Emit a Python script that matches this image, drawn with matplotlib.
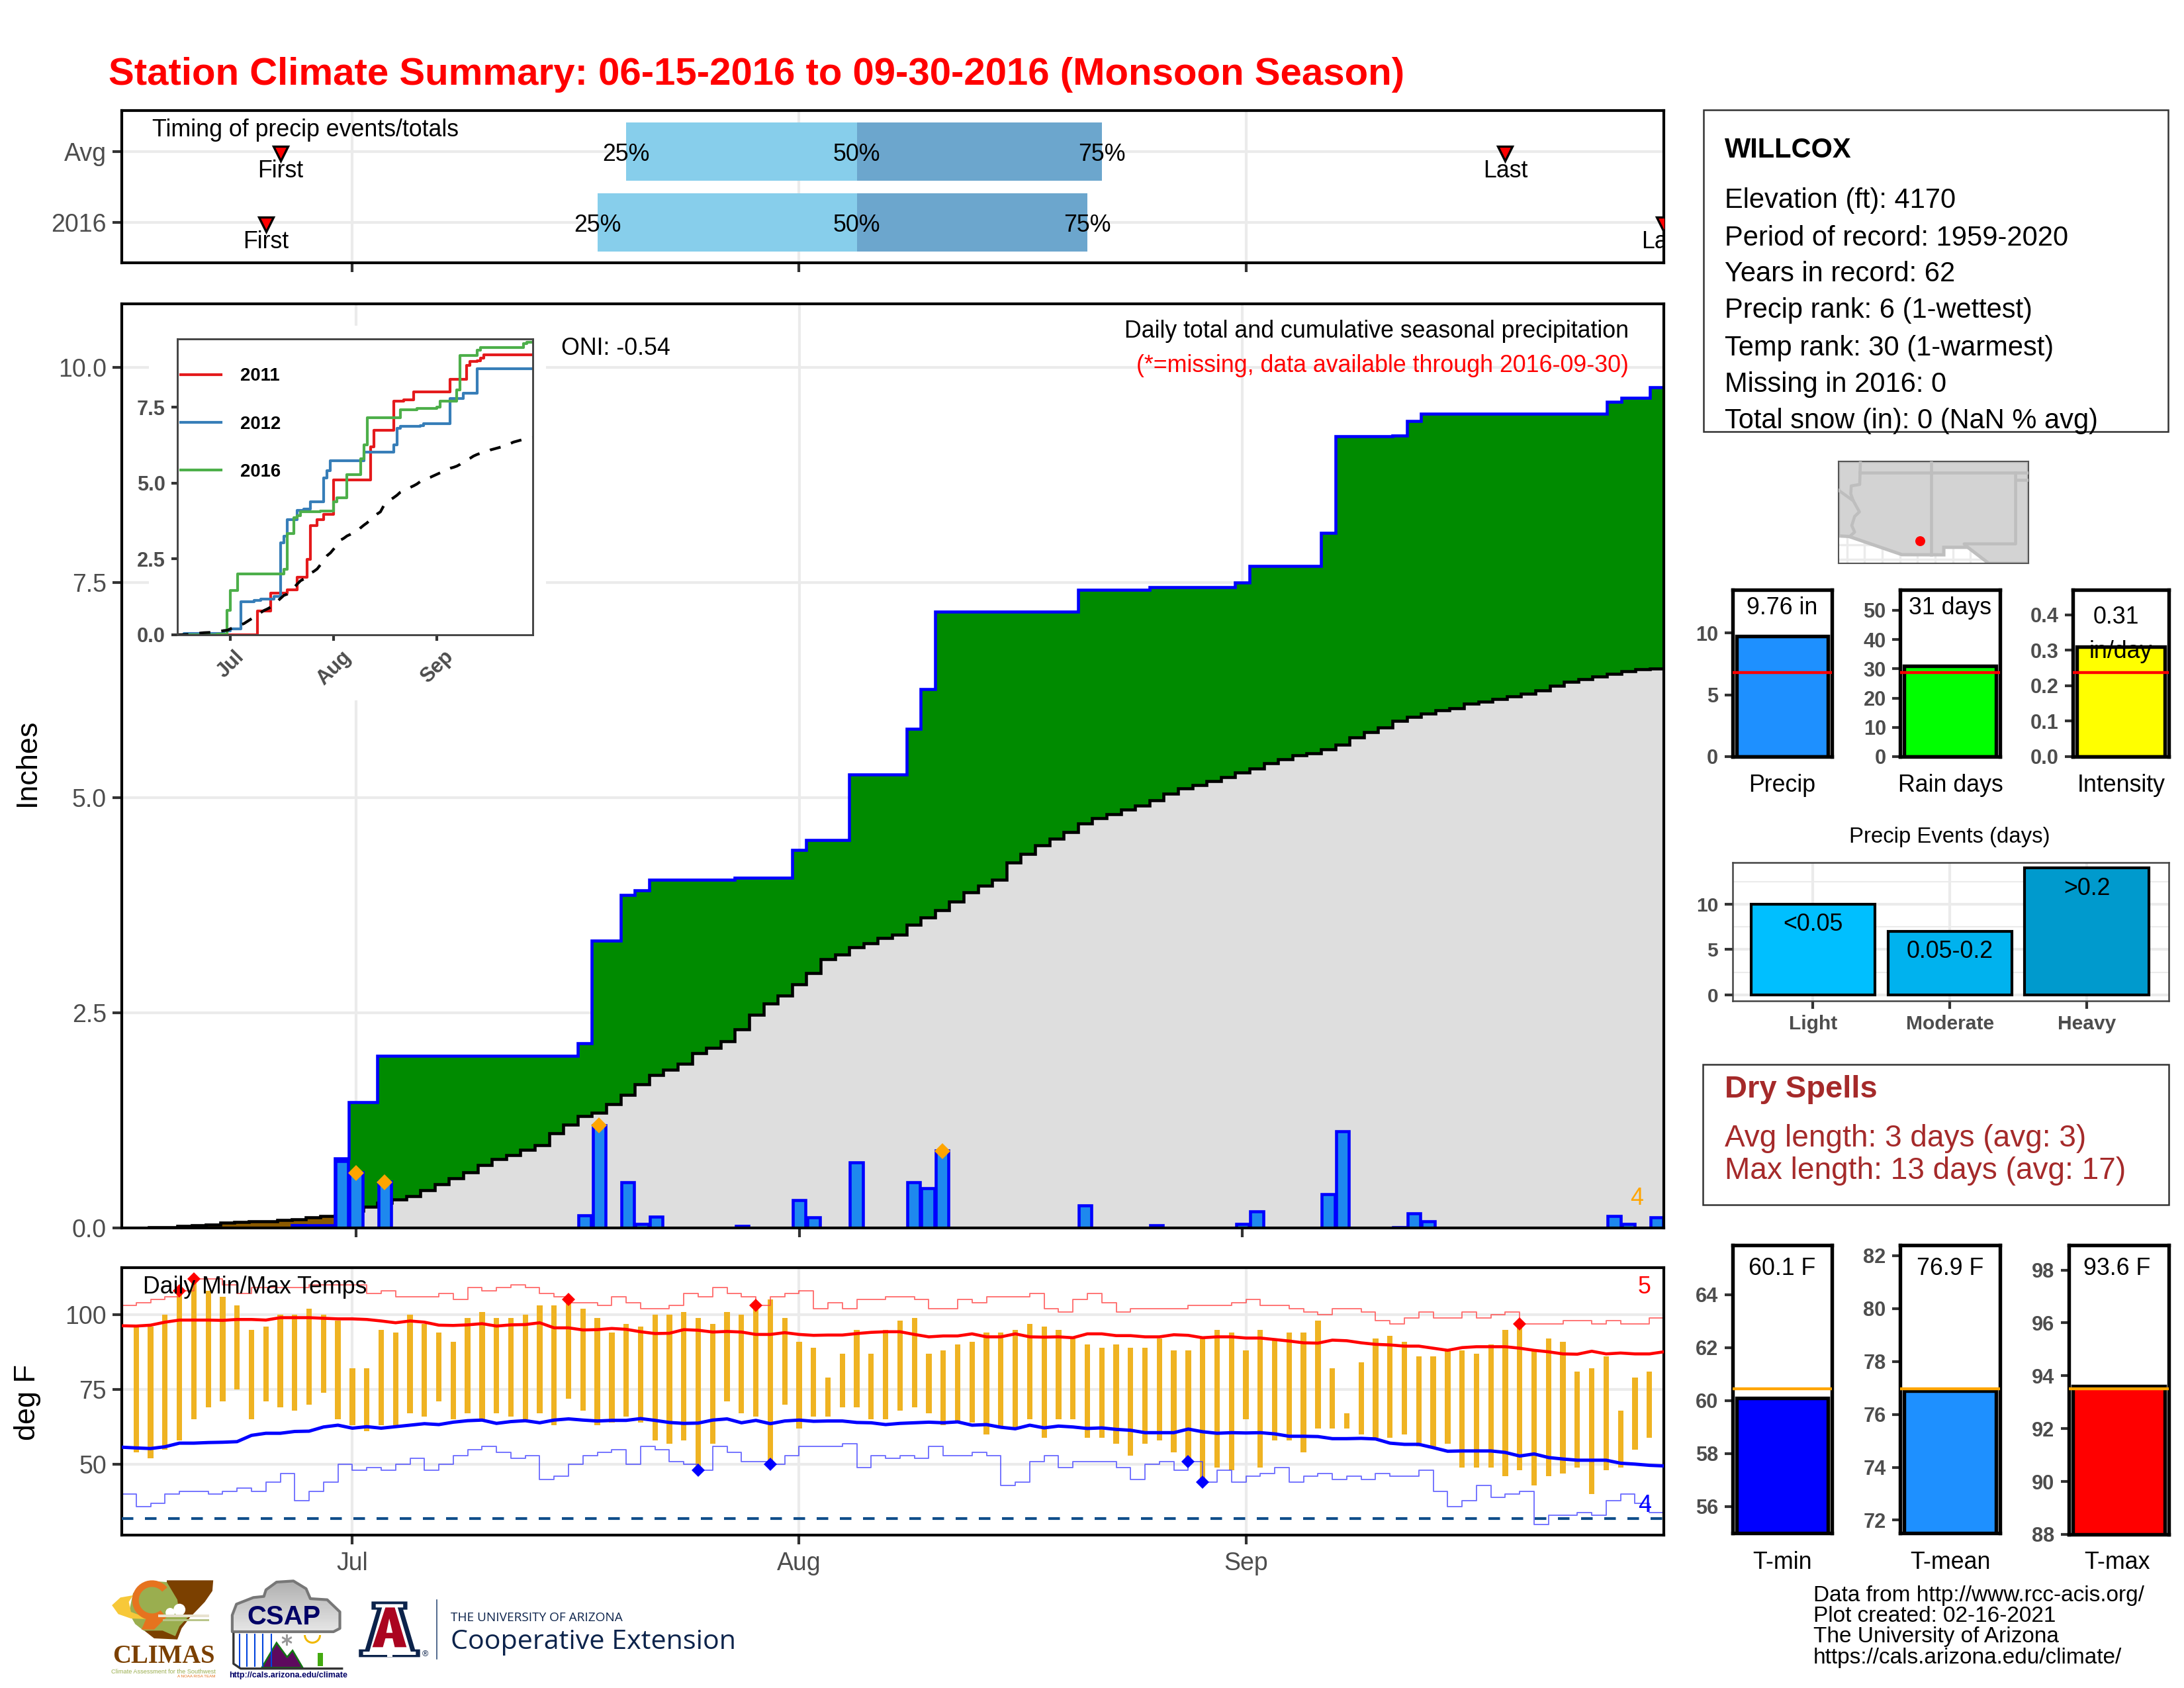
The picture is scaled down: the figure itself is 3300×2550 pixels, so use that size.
import numpy as np
import matplotlib
matplotlib.use("Agg")
import matplotlib.pyplot as plt
from matplotlib.patches import Polygon, Rectangle, Wedge, Circle

plt.rcParams["font.family"] = ["Liberation Sans", "DejaVu Sans"]

W, H = 3300, 2550

# season day number: 1 = Jun 15, 17 = Jul 1, 48 = Aug 1, 79 = Sep 1, 108 = Sep 30
month_days = [17, 48, 79]
month_labels = ["Jul", "Aug", "Sep"]

# =========================
# precip data
# =========================
rain_days = [13, 16, 17, 19, 33, 34, 36, 37, 38, 44, 48, 49, 52, 56, 57, 58, 68, 73,
             79, 80, 85, 86, 90, 91, 92, 105, 106, 108]
rain_vals = [0.03, 0.78, 0.65, 0.54, 0.15, 1.19, 0.53, 0.05, 0.13, 0.02, 0.32, 0.12,
             0.76, 0.53, 0.46, 0.90, 0.26, 0.03, 0.05, 0.19, 0.39, 1.12, 0.01, 0.17,
             0.08, 0.14, 0.05, 0.12]
extreme_rain_days = [17, 19, 34, 58]
extreme_rain_vals = [0.64, 0.53, 1.19, 0.89]

avg_cum = [0, 0, 0.005, 0.01, 0.02, 0.03, 0.04, 0.06, 0.07, 0.075, 0.08, 0.09, 0.10,
           0.12, 0.14, 0.15, 0.20, 0.25, 0.29, 0.33, 0.37, 0.44, 0.51, 0.58, 0.65,
           0.73, 0.80, 0.85, 0.91, 0.96, 1.10, 1.20, 1.30, 1.34, 1.44, 1.55, 1.67,
           1.78, 1.84, 1.91, 2.03, 2.09, 2.17, 2.31, 2.48, 2.61, 2.70, 2.83, 2.96,
           3.12, 3.18, 3.26, 3.31, 3.37, 3.41, 3.52, 3.61, 3.69, 3.79, 3.90, 3.98,
           4.05, 4.25, 4.35, 4.45, 4.52, 4.60, 4.70, 4.76, 4.81, 4.86, 4.91, 4.97,
           5.05, 5.11, 5.15, 5.19, 5.24, 5.29, 5.34, 5.40, 5.45, 5.49, 5.52, 5.56,
           5.62, 5.70, 5.76, 5.82, 5.89, 5.94, 5.98, 6.02, 6.04, 6.09, 6.12, 6.15,
           6.18, 6.21, 6.25, 6.30, 6.35, 6.38, 6.41, 6.44, 6.47, 6.49, 6.50]

# comparison years in the inset, day / level where the total changes
y2011_days = [1, 25, 29, 34, 37, 40, 41, 43, 45, 48, 59, 60, 66, 69, 72, 83, 88, 89, 91, 92, 93, 108]
y2011_vals = [0, 0.79, 1.37, 1.49, 1.89, 2.48, 3.60, 3.80, 3.96, 5.10, 6.19, 6.73, 7.70,
              7.74, 8.01, 8.42, 8.88, 9.01, 9.04, 9.12, 9.22, 9.22]
y2012_days = [1, 3, 15, 17, 20, 24, 26, 30, 32, 33, 34, 37, 39, 41, 45, 46, 47, 57, 66,
              67, 68, 74, 75, 83, 87, 91, 108]
y2012_vals = [0, 0.05, 0.13, 0.19, 1.10, 1.13, 1.18, 1.26, 3.04, 3.26, 3.80, 4.09, 4.15,
              4.39, 5.16, 5.41, 5.74, 6.03, 6.25, 6.81, 6.86, 6.89, 6.95, 7.78, 7.97, 8.76, 8.76]

# timing of events
timing_rows = ["2016", "Avg"]
q25_days = [34, 36]
q50_days = [52, 52]
q75_days = [68, 69]
first_days = [11, 12]
last_days = [108, 97]

# =========================
# temperature data
# =========================
t_days = list(range(2, 108))
t_max = [96, 96, 100, 108, 112, 108, 106, 103, 95, 96, 100, 100, 102, 100, 98, 82, 82, 95,
         94, 100, 97, 94, 91, 99, 101, 99, 99, 100, 103, 103, 105, 102, 99, 94, 97, 96,
         100, 100, 101, 99, 97, 101, 100, 102, 105, 99, 91, 89, 79, 87, 95, 87, 95, 98,
         99, 87, 88, 90, 91, 94, 94, 95, 97, 96, 95, 92, 90, 89, 90, 89, 89, 92, 88, 88,
         92, 95, 94, 88, 95, 92, 94, 94, 98, 82, 67, 84, 92, 93, 91, 86, 86, 88, 88, 87,
         90, 95, 97, 88, 92, 91, 81, 82, 86, 68, 79, 81]
t_min = [54, 52, 55, 58, 65, 69, 71, 75, 65, 71, 69, 68, 70, 74, 65, 63, 61, 63, 63, 67,
         66, 71, 65, 67, 65, 67, 66, 65, 67, 63, 72, 68, 63, 64, 66, 64, 58, 57, 58, 49,
         57, 71, 67, 66, 51, 70, 62, 66, 66, 69, 69, 65, 65, 68, 69, 67, 63, 64, 64, 60,
         62, 62, 65, 59, 65, 65, 59, 59, 57, 53, 57, 58, 54, 51, 44, 49, 48, 65, 49, 58,
         58, 54, 62, 62, 62, 60, 59, 59, 60, 56, 56, 57, 49, 49, 49, 46, 48, 43, 46, 47,
         49, 40, 48, 49, 55, 59]
avg_max = [96.3, 96.2, 96.5, 97.5, 98.2, 98.2, 98.2, 98.1, 98.4, 98.4, 98.2, 99, 99, 99,
           98.8, 98.6, 98.6, 98.4, 97.9, 97.3, 97.9, 97.5, 96.5, 96.4, 96.6, 97, 96.2,
           96.6, 96.7, 97.3, 95.6, 95.6, 94.9, 95, 95.4, 95.1, 94.3, 93.7, 93.8, 95,
           94.8, 94.2, 94.4, 94.2, 93.4, 93.4, 94, 93.4, 93.1, 93.2, 93.2, 93.7, 94.1,
           94.3, 94.3, 93.4, 92.6, 92.9, 92.9, 93.6, 92.6, 92.6, 93.6, 92.6, 92.5, 92.6,
           92.3, 93.6, 93.6, 93, 93, 92.6, 92.6, 93.3, 93.1, 92.3, 92.6, 92.6, 92.2, 92.2,
           91.7, 91.2, 90.6, 90.5, 91.5, 91.3, 90.6, 90.1, 89.9, 89.5, 89.5, 88.8, 88.1,
           89, 89.3, 89.3, 89.3, 88.8, 88.1, 87.6, 86.9, 86.8, 87.8, 86.9, 87.2, 86.9,
           86.9, 87.6]
avg_min = [55.75, 55.5, 55.3, 55.9, 57.1, 57.1, 57.3, 57.4, 57.6, 59.7, 60.4, 60.4, 61,
           61.1, 62.5, 63.1, 62.1, 62.6, 62.1, 62.6, 63.1, 63.6, 63.3, 64.1, 64.6, 64.8,
           63.7, 64.3, 64.6, 63.9, 64.8, 65.2, 64.8, 64.5, 64.7, 64.7, 65.3, 64.7, 64,
           63.7, 63.8, 64.8, 65.2, 63.9, 64.7, 63.6, 64.5, 64.8, 64.4, 64.5, 64.5, 64,
           63.9, 63.3, 63.7, 63.9, 64.1, 63.9, 64.2, 63.1, 63.3, 62.4, 61.9, 63.1, 62.2,
           62.8, 62.5, 62, 62.2, 61.7, 61.4, 60.6, 60.6, 60.6, 61.8, 60.9, 60.4, 60.6,
           60.5, 60.6, 60.2, 59.4, 59.4, 59.3, 58.6, 58.6, 58.7, 58.5, 57.1, 56.7, 56.7,
           55.6, 54.4, 54.5, 54.5, 54.5, 54, 52.8, 53.5, 52.3, 51.8, 51.4, 51.4, 51.4,
           50.4, 50.1, 49.7, 49.5]
rec_max = [103, 104, 105, 106, 108, 112, 112, 110, 107, 109, 109, 109, 109, 110, 110, 110,
           110, 107, 108, 106, 106, 106, 107, 105, 109, 108, 109, 110, 109, 107, 106, 104,
           104, 103, 106, 104, 102, 102, 103, 107, 106, 109, 107, 106, 103, 106, 107, 108,
           102, 104, 102, 105, 105, 106, 106, 105, 102, 102, 105, 104, 106, 106, 106, 107,
           102, 101, 105, 107, 104, 101, 102, 102, 102, 102, 103, 103, 103, 104, 105, 103,
           103, 102, 101, 100, 102, 102, 101, 98, 97, 99, 101, 99, 99, 101, 99, 100, 101,
           97, 97, 97, 98, 98, 97, 98, 97, 97, 99, 99]
rec_min = [40, 36, 37, 40, 41, 41, 40, 41, 42, 41, 44, 47, 38, 41, 44, 50, 48, 49, 48, 50,
           52, 48, 50, 53, 55, 56, 54, 52, 53, 45, 46, 50, 53, 54, 55, 50, 56, 55, 51, 50,
           48, 56, 54, 51, 51, 50, 53, 56, 56, 56, 57, 49, 53, 52, 53, 52, 56, 53, 53, 54,
           53, 43, 44, 51, 53, 49, 51, 51, 51, 49, 45, 50, 51, 48, 51, 44, 48, 44, 46, 47,
           49, 44, 46, 47, 45, 46, 45, 47, 46, 46, 48, 41, 36, 38, 43, 39, 40, 41, 30, 33,
           33, 34, 33, 38, 40, 37, 34, 34]
hot_days = [5, 6, 32, 45, 98]
hot_vals = [108, 112, 105, 103, 97]
cold_days = [41, 46, 75, 76]
cold_vals = [48, 50, 51, 44]
freezing = 32

# =========================
# summary panels
# =========================
precip_total, precip_avg = 9.76, 6.79
raindays_total, raindays_avg = 31, 28.7
intensity_val, intensity_avg = 0.31, 0.237
event_labels = ["Light", "Moderate", "Heavy"]
event_counts = [10, 7, 14]
event_ranges = ["<0.05", "0.05-0.2", ">0.2"]
tmin_val, tmin_avg = 60.1, 60.44
tmean_val, tmean_avg = 76.9, 76.97
tmax_val, tmax_avg = 93.6, 93.5

station_lines = ["Elevation (ft): 4170", "Period of record: 1959-2020", "Years in record: 62",
                 "Precip rank: 6 (1-wettest)", "Temp rank: 30 (1-warmest)",
                 "Missing in 2016: 0", "Total snow (in): 0 (NaN % avg)"]
credit_lines = ["Data from http://www.rcc-acis.org/", "Plot created: 02-16-2021",
                "The University of Arizona", "https://cals.arizona.edu/climate/"]

# locator map, lon/lat
land_lon = [-115.6, -114.85, -111.1, -108.14, -108.14, -106.44, -104.96, -102.14, -102.14, -115.6]
land_lat = [32.63, 32.59, 31.33, 31.32, 31.84, 31.84, 30.73, 30.73, 37.8, 37.8]
river_lon = [-114.05, -114.1, -114.7, -114.73, -114.57, -114.12, -114.46, -114.66, -114.46, -114.8]
river_lat = [37.8, 36.2, 36.1, 35.55, 35.1, 34.3, 33.98, 33.35, 32.9, 32.6]
canv_lon = [-115.6, -114.6]
canv_lat = [35.8, 35.1]
borders_lon = [[-109.05, -109.05], [-114.1, -102.14], [-103.05, -103.05, -106.7, -106.44], [-103.05, -102.14]]
borders_lat = [[37.8, 31.33], [37, 37], [37, 32.08, 32.08, 31.84], [36.5, 36.5]]
station_lon, station_lat = -109.85, 32.3

GRID = "#EBEBEB"
TICK_TEXT = "#4D4D4D"

fig = plt.figure(figsize=(W / 300, H / 300), dpi=300, facecolor="white")


def panel(left, top, right, bottom):
    return fig.add_axes([left / W, 1 - bottom / H, (right - left) / W, (bottom - top) / H])


def style_axes(ax, size=9.0, weight="normal", frame="black", frame_lw=1.0, tick_len=3.3):
    ax.set_axisbelow(True)
    ax.tick_params(color="#333333", width=1.0, length=tick_len, labelcolor=TICK_TEXT,
                   labelsize=size, pad=2.2)
    for lab in ax.get_xticklabels() + ax.get_yticklabels():
        lab.set_fontweight(weight)
    for sp in ax.spines.values():
        sp.set_color(frame)
        sp.set_linewidth(frame_lw)


def steps_mid(edges, vals):
    return np.repeat(edges, 2)[1:-1], np.repeat(vals, 2)


# page layer in pixels, for text and logos
page = fig.add_axes([0, 0, 1, 1], zorder=10)
page.set_xlim(0, W)
page.set_ylim(H, 0)
page.axis("off")


def put(x, y, s, **kw):
    kw.setdefault("va", "center")
    return page.text(x, y + 4, s, **kw)


put(164, 109, "Station Climate Summary: 06-15-2016 to 09-30-2016 (Monsoon Season)",
    color="red", fontsize=13.95, fontweight="bold")

# =========================
# 1. timing panel
# =========================
ax_time = panel(184, 167, 2514, 397)
ax_time.set_xlim(1, 108)
ax_time.set_ylim(0.43, 2.58)
ax_time.set_xticks(month_days)
ax_time.set_xticklabels([])
ax_time.set_yticks([1, 2])
ax_time.set_yticklabels(timing_rows)
ax_time.grid(True, color=GRID, lw=1.0)
style_axes(ax_time)
for i in range(2):
    row = i + 1
    ax_time.barh(row, q50_days[i] - q25_days[i], left=q25_days[i], height=0.83, color="#87CEEB", zorder=2)
    ax_time.barh(row, q75_days[i] - q50_days[i], left=q50_days[i], height=0.83, color="#6CA6CD", zorder=2)
    for d, lab in zip([q25_days[i], q50_days[i], q75_days[i]], ["25%", "50%", "75%"]):
        ax_time.text(d, row - 0.045, lab, ha="center", va="center", fontsize=8.6, zorder=4)
    for d, lab in zip([first_days[i], last_days[i]], ["First", "Last"]):
        ax_time.plot(d, row - 0.03, marker="v", ms=5.4, mfc="red", mec="black", mew=0.8, ls="none", zorder=4)
        ax_time.text(d, row - 0.28, lab, ha="center", va="center", fontsize=8.6, zorder=4, clip_on=True)
put(230, 193, "Timing of precip events/totals", fontsize=8.6)

# =========================
# 2. main precip panel
# =========================
days = np.arange(1, 109)
edges = np.arange(0.5, 109)
daily = np.zeros(108)
daily[np.array(rain_days) - 1] = rain_vals
season_cum = np.cumsum(daily)
avg_arr = np.array(avg_cum)

ax = panel(184, 459, 2514, 1855)
ax.set_xlim(0.61, 108.48)
ax.set_ylim(0, 10.74)
ax.set_xticks(month_days)
ax.set_xticklabels([])
ax.set_yticks([0, 2.5, 5, 7.5, 10])
ax.set_yticklabels(["0.0", "2.5", "5.0", "7.5", "10.0"])
ax.grid(True, color=GRID, lw=1.0, zorder=0.5)
style_axes(ax)
ax.add_patch(Rectangle((225 / W, 1 - 1058 / H), 600 / W, 566 / H, transform=fig.transFigure,
                       fc="white", ec="none", zorder=0.9))

sx, avg_s = steps_mid(edges, avg_arr)
_, cum_s = steps_mid(edges, season_cum)
ax.fill_between(sx, 0, avg_s, color="#DEDEDE", lw=0, zorder=1)
ax.fill_between(sx, avg_s, cum_s, where=cum_s >= avg_s, color="#008B00", lw=0, zorder=1.1)
ax.fill_between(sx, cum_s, avg_s, where=cum_s < avg_s, color="#8B5A00", lw=0, zorder=1.1)
ax.plot(sx, avg_s, color="black", lw=1.1, zorder=1.3, solid_joinstyle="miter")
ax.plot(sx, cum_s, color="#0000FF", lw=1.1, zorder=1.4, solid_joinstyle="miter")
ax.bar(rain_days, rain_vals, width=0.9, color="#1E88EE", edgecolor="#0000FF", lw=1.1, zorder=2)
ax.plot(extreme_rain_days, extreme_rain_vals, ls="none", marker="D", ms=4.0, color="orange", mew=0, zorder=3)

put(848, 522, "ONI: -0.54", fontsize=8.6)
put(2461, 497, "Daily total and cumulative seasonal precipitation", fontsize=8.6, ha="right")
put(2461, 549, "(*=missing, data available through 2016-09-30)", fontsize=8.6, ha="right", color="red")
put(2473, 1806, "4", fontsize=8.6, ha="center", color="orange")
page.text(41, 1152, "Inches", fontsize=10.8, va="center", ha="center", rotation=90)

# inset
ins = panel(268, 512, 805, 959)
ins.set_zorder(5)
ins.set_xlim(1, 107.8)
ins.set_ylim(0, 9.75)
ins.set_xticks(month_days)
ins.set_xticklabels(month_labels, rotation=45, ha="center")
ins.set_yticks([0, 2.5, 5, 7.5])
ins.set_yticklabels(["0.0", "2.5", "5.0", "7.5"])
style_axes(ins, size=7.4, weight="bold", frame="#444444", frame_lw=0.7, tick_len=2.2)
ins.step(y2011_days, y2011_vals, where="post", color="#E41A1C", lw=1.0, label="2011")
ins.step(y2012_days, y2012_vals, where="post", color="#377EB8", lw=1.0, label="2012")
ins.step(days, season_cum, where="post", color="#4DAF4A", lw=1.0, label="2016")
ins.plot(days, avg_arr, color="black", lw=1.0, ls=(0, (4, 4)))
leg = ins.legend(loc="upper left", bbox_to_anchor=(0.01, 0.903), frameon=False, prop={"size": 6.6, "weight": "bold"},
                 handlelength=2.2, handletextpad=1.05, labelspacing=1.68, borderpad=0, borderaxespad=0)

# =========================
# 3. temperature panel
# =========================
ax_t = panel(184, 1915, 2514, 2319)
ax_t.set_xlim(1, 108)
ax_t.set_ylim(26.4, 115.7)
ax_t.set_xticks(month_days)
ax_t.set_xticklabels(month_labels)
ax_t.set_yticks([50, 75, 100])
ax_t.grid(True, color=GRID, lw=1.0)
style_axes(ax_t)
ax_t.tick_params(axis="x", pad=2.7)
ax_t.bar(t_days, np.array(t_max) - np.array(t_min), bottom=t_min, width=0.38, color="#EFB322", zorder=2)
ax_t.step(days, rec_max, where="post", color="#FF4040", lw=0.45, alpha=0.75, zorder=2.2)
ax_t.step(days, rec_min, where="post", color="#4040FF", lw=0.45, alpha=0.75, zorder=2.2)
ax_t.plot(days, avg_max, color="red", lw=1.1, zorder=3)
ax_t.plot(days, avg_min, color="#0000FF", lw=1.2, zorder=3)
ax_t.axhline(freezing, color="#104E8B", lw=1.0, ls=(0, (4.2, 4.2)), zorder=3)
ax_t.plot(hot_days, hot_vals, ls="none", marker="D", ms=3.4, color="red", mew=0, zorder=4)
ax_t.plot(cold_days, cold_vals, ls="none", marker="D", ms=3.4, color="#0000FF", mew=0, zorder=4)
put(216, 1940, "Daily Min/Max Temps", fontsize=8.6)
put(2485, 1941, "5", fontsize=8.6, ha="center", color="red")
put(2485, 2271, "4", fontsize=8.6, ha="center", color="#0000FF")
page.text(41, 2118, "deg F", fontsize=10.8, va="center", ha="center", rotation=90)

# =========================
# 4. station box
# =========================
page.add_patch(Rectangle((2574, 166), 702, 486, fc="white", ec="#333333", lw=0.6))
put(2606, 223, "WILLCOX", fontsize=10, fontweight="bold")
for y, line in zip([299, 356, 410, 465, 522, 577, 632], station_lines):
    put(2606, y, line, fontsize=10)

# locator map
ax_map = panel(2778, 697, 3065, 851)
ax_map.set_xlim(-115.6, -102.14)
ax_map.set_ylim(30.73, 37.8)
ax_map.set_xticks([-115, -113.75, -112.5, -111.25, -110, -108.75, -107.5, -106.25])
ax_map.set_yticks([31, 32])
ax_map.tick_params(length=0, labelbottom=False, labelleft=False)
ax_map.grid(True, color=GRID, lw=0.8)
ax_map.set_axisbelow(True)
for sp in ax_map.spines.values():
    sp.set_color("#555555")
    sp.set_linewidth(0.5)
ax_map.add_patch(Polygon(np.column_stack([land_lon, land_lat]), fc="#D3D3D3", ec="#BEBEBE", lw=1.2, zorder=2))
for blon, blat in zip(borders_lon + [river_lon, canv_lon], borders_lat + [river_lat, canv_lat]):
    ax_map.plot(blon, blat, color="#BEBEBE", lw=1.1, zorder=3)
ax_map.plot(station_lon, station_lat, "o", color="red", ms=3.6, mew=0, zorder=4)


def stat_panel(left, right, top, bottom, ylim, ticks, value, ref, fill, ref_color, labels=None):
    a = panel(left, top, right, bottom)
    a.set_xlim(0, 1)
    a.set_ylim(*ylim)
    a.set_xticks([])
    a.set_yticks(ticks)
    if labels:
        a.set_yticklabels(labels)
    style_axes(a, size=7.4, weight="bold", frame_lw=1.3, tick_len=2.9)
    a.bar(0.5, value, width=0.92, color=fill, edgecolor="black", lw=1.3, zorder=2)
    a.axhline(ref, color=ref_color, lw=1.05, zorder=3)
    return a


stat_panel(2617.5, 2768, 891, 1143, (0.1, 13.5), [0, 5, 10], precip_total, precip_avg, "#1E90FF", "red")
stat_panel(2871, 3022, 891, 1143, (0.4, 57), [0, 10, 20, 30, 40, 50], raindays_total, raindays_avg, "#00FF00", "red")
stat_panel(3132, 3277, 891, 1143, (0.004, 0.47), [0, 0.1, 0.2, 0.3, 0.4], intensity_val, intensity_avg, "#FFFF00", "red",
           labels=["0.0", "0.1", "0.2", "0.3", "0.4"])
put(2693, 915, "9.76 in", fontsize=8.6, ha="center")
put(2946, 915, "31 days", fontsize=8.6, ha="center")
put(3197, 928, "0.31", fontsize=8.6, ha="center")
put(3204, 980, "in/day", fontsize=8.6, ha="center")
put(2693, 1182, "Precip", fontsize=8.6, ha="center")
put(2947, 1182, "Rain days", fontsize=8.6, ha="center")
put(3205, 1182, "Intensity", fontsize=8.6, ha="center")

# precip events
ax_ev = panel(2617.5, 1303, 3277, 1512)
ax_ev.set_xlim(0.41, 3.6)
ax_ev.set_ylim(-0.66, 14.6)
ax_ev.set_xticks([1, 2, 3])
ax_ev.set_xticklabels(event_labels)
ax_ev.set_yticks([0, 5, 10])
ax_ev.set_yticks([2.5, 7.5, 12.5], minor=True)
ax_ev.grid(True, which="major", color=GRID, lw=1.0)
ax_ev.grid(True, which="minor", axis="y", color=GRID, lw=0.5)
style_axes(ax_ev, size=7.2, weight="bold", frame="#444444", frame_lw=0.6, tick_len=2.9)
ax_ev.tick_params(which="minor", length=0)
ax_ev.bar([1, 2, 3], event_counts, width=0.905, color=["#00BFFF", "#00B2EE", "#009ACD"],
          edgecolor="black", lw=1.0, zorder=2)
for i, lab in enumerate(event_ranges):
    ax_ev.text(i + 1, event_counts[i] - 2.25, lab, ha="center", va="center", fontsize=8.6, zorder=3)
put(2946, 1261, "Precip Events (days)", fontsize=7.9, ha="center")

# dry spells
page.add_patch(Rectangle((2573, 1608), 704, 212, fc="white", ec="#333333", lw=0.6))
put(2606, 1642, "Dry Spells", color="#A52A2A", fontsize=11.3, fontweight="bold")
put(2606, 1716, "Avg length: 3 days (avg: 3)", color="#A52A2A", fontsize=11.05)
put(2606, 1765, "Max length: 13 days (avg: 17)", color="#A52A2A", fontsize=11.05)

# temperature bars
stat_panel(2617.5, 2768, 1881, 2316, (55.0, 65.87), [56, 58, 60, 62, 64], tmin_val, tmin_avg, "#0000FF", "orange")
stat_panel(2871, 3022, 1881, 2316, (71.51, 82.4), [72, 74, 76, 78, 80, 82], tmean_val, tmean_avg, "#1E90FF", "orange")
stat_panel(3125.5, 3277, 1881, 2318, (88, 98.94), [88, 90, 92, 94, 96, 98], tmax_val, tmax_avg, "#FF0000", "orange")
put(2693, 1913, "60.1 F", fontsize=8.6, ha="center")
put(2947, 1913, "76.9 F", fontsize=8.6, ha="center")
put(3199, 1913, "93.6 F", fontsize=8.6, ha="center")
put(2693, 2356, "T-min", fontsize=8.6, ha="center")
put(2947, 2356, "T-mean", fontsize=8.6, ha="center")
put(3199, 2356, "T-max", fontsize=8.6, ha="center")

for y, line in zip([2405, 2437, 2468, 2500], credit_lines):
    put(2740, y + 1, line, fontsize=8.0)

# =========================
# 5. logos (zoom coordinates of the logo strip turned into page pixels)
# =========================


def lp(points):
    return [(150 + x / 1.568, 2360 + y / 3) for x, y in points]


def logo_poly(points, color, **kw):
    patch = Polygon(lp(points), fc=color, ec=kw.pop("ec", "none"), lw=kw.pop("lw", 0), **kw)
    page.add_patch(patch)
    return patch


BROWN = "#7B4000"
OLIVE = "#9AAE4F"
LOGO_ORANGE = "#E6731F"
NAVY = "#0C234B"
# CLIMAS mark
logo_poly([(160, 82), (270, 82), (268, 130), (250, 180), (215, 250), (195, 300), (185, 350), (130, 345), (100, 300), (160, 200)], BROWN)
logo_poly([(70, 230), (80, 140), (125, 85), (160, 90), (185, 170), (190, 235), (215, 240), (190, 290), (180, 335), (150, 310), (105, 310), (85, 280)], OLIVE)
logo_poly([(30, 195), (50, 160), (80, 150), (70, 180), (75, 225), (120, 258), (75, 255), (45, 235)], "#F7C839")
page.add_patch(Wedge(lp([(125, 172)])[0], 30, 50, 320, width=10, fc=LOGO_ORANGE, lw=0))
page.add_patch(Circle(lp([(190, 215)])[0], 9, fc="white", lw=0))
page.add_patch(Circle(lp([(168, 228)])[0], 7, fc="white", lw=0))
logo_poly([(115, 238), (165, 238), (130, 305), (100, 305)], LOGO_ORANGE)
logo_poly([(140, 238), (260, 238), (260, 250), (140, 250)], "#E8E2CF")
logo_poly([(150, 258), (260, 258), (260, 268), (150, 268)], "#B9C58A")
page.text(247, 2503, "CLIMAS", family="Liberation Serif", fontweight="bold", color=BROWN, fontsize=9.3, ha="center", va="center")
page.text(247, 2525, "Climate Assessment for the Southwest", color=OLIVE, fontsize=2.2, ha="center", va="center")
page.text(325, 2533, "A NOAA RISA TEAM", color=LOGO_ORANGE, fontsize=1.5, ha="right", va="center")

# CSAP mark, cloud with a grey gradient
cloud = logo_poly([(315, 315), (315, 240), (325, 190), (365, 160), (390, 155), (395, 125), (420, 90), (460, 85), (490, 120),
                   (500, 165), (540, 170), (570, 225), (570, 300), (555, 315)], "none", ec="#777777", lw=1.0, joinstyle="round")
shade = page.imshow(np.linspace(0.68, 0.9, 32).reshape(-1, 1), cmap="gray", vmin=0, vmax=1, aspect="auto",
                    extent=(340, 520, 2465, 2385), zorder=0.5)
shade.set_clip_path(cloud)
page.set_xlim(0, W)
page.set_ylim(H, 0)
page.text(150 + 437 / 1.568, 2360 + 250 / 3, "CSAP", color="#000066", fontsize=9.6, fontweight="bold", ha="center", va="center")
for z in [332, 350, 368, 388, 408]:
    page.plot(*zip(*lp([(z, 328), (z, 470)])), color="#0044DD", lw=0.5)
page.plot(*zip(*lp([(318, 325), (318, 460), (335, 482), (575, 482)])), color="#333333", lw=0.8)
logo_poly([(385, 478), (420, 365), (445, 430), (458, 400), (482, 478)], "#5E0A5E", ec="#117711", lw=0.6)
page.plot(*lp([(443, 350)])[0], marker=(6, 2, 0), ms=4, color="#999999", mew=0.6)
page.add_patch(Wedge(lp([(505, 330)])[0], 13, 0, 180, width=3, fc="#F0B800", lw=0))
logo_poly([(518, 470), (518, 412), (530, 412), (530, 470)], "#44AA11")
page.text(150 + 448 / 1.568, 2360 + 512 / 3, "http://cals.arizona.edu/climate", color="#000066", fontsize=3.0,
          fontweight="bold", ha="center", va="center")

# block A and wordmark
logo_poly([(645, 178), (730, 178), (730, 215), (720, 215), (748, 395), (760, 395), (760, 430), (615, 430), (615, 395),
           (630, 395), (658, 215), (645, 215)], NAVY)
logo_poly([(655, 190), (720, 190), (720, 205), (707, 205), (738, 405), (750, 405), (750, 420), (625, 420), (625, 405),
           (640, 405), (670, 205), (655, 205)], "white")
logo_poly([(678, 205), (700, 205), (728, 385), (700, 385), (695, 345), (678, 345), (672, 385), (647, 385)], "#AB0520")
logo_poly([(687, 255), (680, 320), (695, 320)], "white")
logo_poly([(682, 395), (695, 395), (695, 430), (682, 430)], "white")
page.text(150 + 772 / 1.568, 2360 + 418 / 3, "®", color=NAVY, fontsize=3, ha="center", va="center")
page.plot(*zip(*lp([(800, 170), (800, 437)])), color="#34507A", lw=0.4)
put(150 + 833 / 1.568, 2440, "THE UNIVERSITY OF ARIZONA", family="Open Sans", color=NAVY, fontsize=4.56)
put(150 + 833 / 1.568, 2477, "Cooperative Extension", family="Open Sans", color=NAVY, fontsize=9.9)

fig.savefig("out.png", dpi=300)
